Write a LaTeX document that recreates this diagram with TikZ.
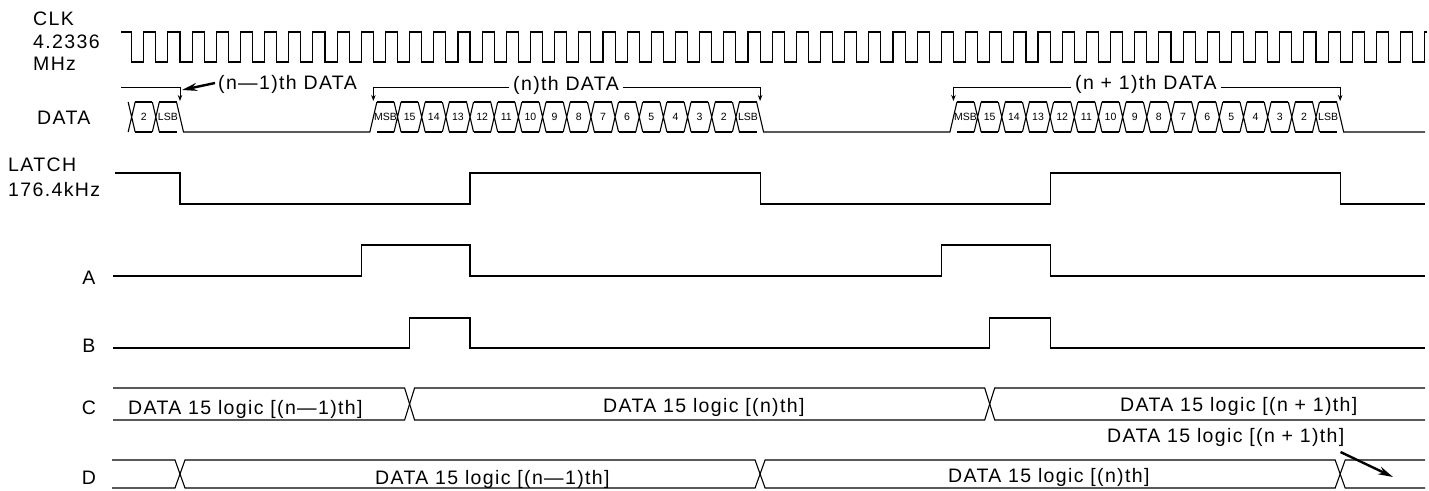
\documentclass[tikz,border=0pt]{standalone}
\usepackage{fontspec}
\setmainfont{Liberation Sans}[LetterSpace=7]
\newfontfamily\cellfont{Liberation Sans}
\usetikzlibrary{arrows.meta,calc}
\newcommand\datarun[3]{%
  \foreach \lab [count=\j from 0] in {#2} {
    \pgfmathsetmacro\xA{180+(#1+\j-2)*24.17}
    \pgfmathsetmacro\xC{\xA+24.17}
    \draw[wave] (\xA+3.5,102) -- (\xC-3.5,102) (\xA+3.5,132) -- (\xC-3.5,132);
    \node[cellt] (#3\j) at ({(\xA+\xC)/2},117) {\lab};
  }%
}
\newcommand\crossat[1]{%
  \foreach \k in {#1} {
    \pgfmathsetmacro\xB{180+(\k-2)*24.17}
    \draw[wave] (\xB-3.5,102) -- (\xB+3.5,132) (\xB-3.5,132) -- (\xB+3.5,102);
  }%
}
\begin{document}
\begin{tikzpicture}[x=1pt,y=-1pt,
  wave/.style={line width=1.1pt,line join=miter},
  lbl/.style={font=\fontsize{19.5}{22}\selectfont,inner sep=0pt},
  cellt/.style={font=\cellfont\fontsize{10.5}{12}\selectfont,inner sep=0pt},
  tipline/.style={line width=1pt,-{Stealth[length=6pt,width=4.5pt]}},
  boldarr/.style={line width=2.4pt,-{Stealth[length=15pt,width=8pt]}}
]
\useasboundingbox (0,0) rectangle (1429,490);

% signal names
\node[lbl,anchor=base west] (lclk) at (33,25) {CLK};
\node[lbl,anchor=base west] (lfreq) at (33,48) {4.2336};
\node[lbl,anchor=base west] (lmhz) at (33,70) {MHz};
\node[lbl,anchor=base west] (ldata) at (37,124) {DATA};
\node[lbl,anchor=base west] (llatch) at (8,171) {LATCH};
\node[lbl,anchor=base west] (lkhz) at (8,196) {176.4kHz};
\node[lbl,anchor=base] (la) at (89,284) {A};
\node[lbl,anchor=base] (lb) at (89,352) {B};
\node[lbl,anchor=base] (lc) at (89,414) {C};
\node[lbl,anchor=base] (ld) at (89,484) {D};

% CLK
\draw[wave] (121,32) foreach \k in {0,...,53} {
  -- ({131.66+\k*24.17},32) -- ({131.66+\k*24.17},62)
  -- ({143.745+\k*24.17},62) -- ({143.745+\k*24.17},32) } -- (1427,32);

% DATA bus
\crossat{0,1}
\datarun{0}{2,LSB}{pa}
\crossat{11,...,25}
\datarun{10}{MSB,15,14,13,12,11,10,9,8,7,6,5,4,3,2,LSB}{na}
\crossat{35,...,49}
\datarun{34}{MSB,15,14,13,12,11,10,9,8,7,6,5,4,3,2,LSB}{qa}
\draw[wave] (176.5,102) -- (183.5,132) -- (369.86,132) -- (376.86,102);
\draw[wave] (756.58,102) -- (763.58,132) -- (949.94,132) -- (956.94,102);
\draw[wave] (1336.66,102) -- (1343.66,132) -- (1425,132);

% data brackets
\coordinate (pm0) at (121,87);
\coordinate (pm1) at (180,101);
\coordinate (pn0) at (373.36,101);
\coordinate (pn1) at (760.08,101);
\coordinate (pq0) at (953.44,101);
\coordinate (pq1) at (1340.16,101);
\coordinate (bline) at (0,87);
\coordinate (ptip) at (182,90);
\node[lbl,anchor=base west] (lnm1) at (218,89) {(n—1)th DATA};
\node[lbl,anchor=base west] (ln) at (513,90) {(n)th DATA};
\node[lbl,anchor=base west] (lnp1) at (1075,89) {(n + 1)th DATA};
\draw[tipline] (pm0) -| (pm1);
\draw[boldarr] ($(lnm1.base west)+(-3,-6)$) -- (ptip);
\draw[tipline] ($(ln.west |- bline)+(-4,0)$) -| (pn0);
\draw[tipline] ($(ln.east |- bline)+(4,0)$) -| (pn1);
\draw[tipline] ($(lnp1.west |- bline)+(-4,0)$) -| (pq0);
\draw[tipline] ($(lnp1.east |- bline)+(4,0)$) -| (pq1);

% LATCH
\draw[wave] (115,173) -- (180,173) -- (180,204) -- (470.04,204) -- (470.04,173)
  -- (760.08,173) -- (760.08,204) -- (1050.12,204) -- (1050.12,173)
  -- (1340.16,173) -- (1340.16,204) -- (1425,204);
% A
\draw[wave] (113,276) -- (361.27,276) -- (361.27,245) -- (470.04,245) -- (470.04,276)
  -- (941.35,276) -- (941.35,245) -- (1050.12,245) -- (1050.12,276) -- (1425,276);
% B
\draw[wave] (113,348) -- (409.61,348) -- (409.61,318) -- (470.04,318) -- (470.04,348)
  -- (989.69,348) -- (989.69,318) -- (1050.12,318) -- (1050.12,348) -- (1425,348);
% C
\draw[wave] (113,388) -- (404.6,388) -- (414.6,420) -- (984.7,420) -- (994.7,388) -- (1425,388);
\draw[wave] (113,420) -- (404.6,420) -- (414.6,388) -- (984.7,388) -- (994.7,420) -- (1425,420);
\node[lbl,anchor=base west] (c1) at (128,414) {DATA 15 logic [(n—1)th]};
\node[lbl,anchor=base west] (c2) at (603,412) {DATA 15 logic [(n)th]};
\node[lbl,anchor=base west] (c3) at (1120,411) {DATA 15 logic [(n + 1)th]};
% D
\draw[wave] (112,460) -- (175,460) -- (185,488) -- (755.08,488) -- (765.08,460)
  -- (1335.16,460) -- (1345.16,488) -- (1425,488);
\draw[wave] (112,488) -- (175,488) -- (185,460) -- (755.08,460) -- (765.08,488)
  -- (1335.16,488) -- (1345.16,460) -- (1425,460);
\node[lbl,anchor=base west] (d1) at (375,484) {DATA 15 logic [(n—1)th]};
\node[lbl,anchor=base west] (d2) at (948,482) {DATA 15 logic [(n)th]};
\node[lbl,anchor=base west] (d3) at (1107,442) {DATA 15 logic [(n + 1)th]};
\coordinate (dtip) at (1393,477);
\draw[boldarr] ($(d3.base east)+(-4,10)$) -- (dtip);
\end{tikzpicture}
\end{document}
